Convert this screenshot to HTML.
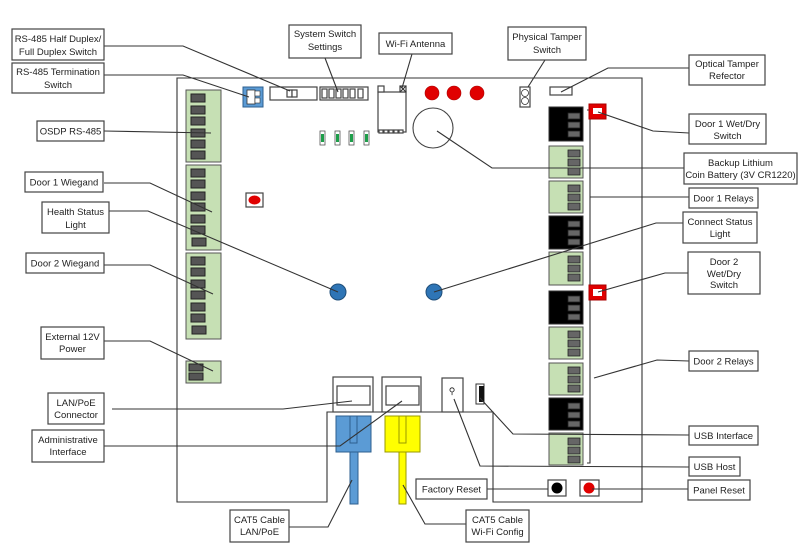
<!DOCTYPE html>
<html><head><meta charset="utf-8"><style>
html,body{margin:0;padding:0;background:#fff;}
svg{display:block;}
text{font-family:"Liberation Sans",sans-serif;font-size:9.5px;fill:#222;text-anchor:middle;}
.b{fill:#fff;stroke:#444;stroke-width:1.2;}
.l{fill:none;stroke:#333;stroke-width:1.1;}
.g{fill:#c6e0b4;stroke:#555;stroke-width:1;}
.k{fill:#000;stroke:#333;stroke-width:1;}
.p{fill:#555;stroke:#222;stroke-width:1;}
</style></head><body>
<svg width="806" height="546" viewBox="0 0 806 546" xmlns="http://www.w3.org/2000/svg">
<!-- board outline -->
<path class="l" d="M177,502 L177,78 L642,78 L642,502 L493,502 L493,412 L327,412 L327,502 Z" stroke-width="1.3"/>

<!-- left terminal blocks -->
<rect class="g" x="186" y="90" width="35" height="72"/>
<rect class="g" x="186" y="165" width="35" height="85"/>
<rect class="g" x="186" y="253" width="35" height="86"/>
<rect class="g" x="186" y="361" width="35" height="22"/>
<g class="p">
<rect x="191" y="94" width="14" height="8"/><rect x="191" y="106" width="14" height="8"/><rect x="191" y="117" width="14" height="8"/><rect x="191" y="129" width="14" height="8"/><rect x="191" y="140" width="14" height="8"/><rect x="191" y="151" width="14" height="8"/>
<rect x="191" y="169" width="14" height="8"/><rect x="191" y="180" width="14" height="8"/><rect x="191" y="192" width="14" height="8"/><rect x="191" y="203" width="14" height="8"/><rect x="191" y="215" width="14" height="8"/><rect x="191" y="226" width="14" height="8"/><rect x="192" y="238" width="14" height="8"/>
<rect x="191" y="257" width="14" height="8"/><rect x="191" y="268" width="14" height="8"/><rect x="191" y="280" width="14" height="8"/><rect x="191" y="291" width="14" height="8"/><rect x="191" y="303" width="14" height="8"/><rect x="191" y="314" width="14" height="8"/><rect x="192" y="326" width="14" height="8"/>
<rect x="189" y="364" width="14" height="7"/><rect x="189" y="373" width="14" height="7"/>
</g>

<!-- top components -->
<rect x="243" y="87" width="20" height="20" fill="#5b9bd5" stroke="#2e5f8f"/>
<rect x="247" y="90" width="8" height="14" fill="#fff" stroke="#333" stroke-width=".8"/>
<rect x="255" y="91" width="5" height="5" fill="#fff" stroke="#333" stroke-width=".6"/><rect x="255" y="98" width="5" height="5" fill="#fff" stroke="#333" stroke-width=".6"/>
<rect class="b" x="270" y="87" width="47" height="13"/>
<rect class="b" x="287" y="90" width="5" height="7" stroke-width=".8"/><rect class="b" x="292" y="90" width="5" height="7" stroke-width=".8"/>
<rect class="b" x="320" y="87" width="48" height="13"/>
<g class="b" stroke-width=".8"><rect x="322" y="89" width="5" height="9"/><rect x="329" y="89" width="5" height="9"/><rect x="336" y="89" width="5" height="9"/><rect x="343" y="89" width="5" height="9"/><rect x="350" y="89" width="5" height="9"/><rect x="358" y="89" width="5" height="9"/></g>
<rect class="b" x="378" y="92" width="28" height="40"/>
<rect class="b" x="378" y="86" width="6" height="6" stroke-width=".8"/><rect class="b" x="400" y="86" width="6" height="6" stroke-width=".8"/>
<path class="l" d="M400,86 L406,92 M406,86 L400,92" stroke-width=".7"/>
<g class="b" stroke-width=".6"><rect x="379" y="130" width="4" height="3"/><rect x="384" y="130" width="4" height="3"/><rect x="389" y="130" width="4" height="3"/><rect x="394" y="130" width="4" height="3"/><rect x="399" y="130" width="4" height="3"/></g>
<g fill="#e00000" stroke="#a00" stroke-width=".6"><circle cx="432" cy="93" r="7"/><circle cx="454" cy="93" r="7"/><circle cx="477" cy="93" r="7"/></g>
<circle cx="433" cy="128" r="20" fill="#fff" stroke="#444" stroke-width="1.1"/>
<g stroke="#555" stroke-width=".8"><rect x="320" y="131" width="5" height="14" fill="#fff"/><rect x="335" y="131" width="5" height="14" fill="#fff"/><rect x="349" y="131" width="5" height="14" fill="#fff"/><rect x="364" y="131" width="5" height="14" fill="#fff"/></g>
<g fill="#1e9e4a"><rect x="321" y="134" width="3" height="8"/><rect x="336" y="134" width="3" height="8"/><rect x="350" y="134" width="3" height="8"/><rect x="365" y="134" width="3" height="8"/></g>
<rect class="b" x="246" y="193" width="17" height="14"/>
<ellipse cx="254.5" cy="200" rx="6" ry="4.5" fill="#e00000"/>
<circle cx="338" cy="292" r="8" fill="#2e75b6" stroke="#1f4e79"/>
<circle cx="434" cy="292" r="8" fill="#2e75b6" stroke="#1f4e79"/>
<rect class="b" x="520" y="87" width="10" height="20"/>
<circle cx="525" cy="93" r="3.5" fill="#fff" stroke="#333" stroke-width=".8"/><circle cx="525" cy="101" r="3.5" fill="#fff" stroke="#333" stroke-width=".8"/>
<rect class="b" x="550" y="87" width="22" height="8"/>

<!-- right column -->
<rect class="k" x="549" y="107" width="34" height="34"/>
<rect class="g" x="549" y="146" width="34" height="32"/>
<rect class="g" x="549" y="181" width="34" height="32"/>
<rect class="k" x="549" y="216" width="34" height="33"/>
<rect class="g" x="549" y="252" width="34" height="33"/>
<rect class="k" x="549" y="291" width="34" height="33"/>
<rect class="g" x="549" y="327" width="34" height="32"/>
<rect class="g" x="549" y="363" width="34" height="32"/>
<rect class="k" x="549" y="398" width="34" height="32"/>
<rect class="g" x="549" y="433" width="34" height="32"/>
<g fill="#666" stroke="#222" stroke-width=".8">
<rect x="568" y="113" width="12" height="6"/><rect x="568" y="122" width="12" height="6"/><rect x="568" y="131" width="12" height="6"/>
<rect x="568" y="150" width="12" height="7"/><rect x="568" y="159" width="12" height="7"/><rect x="568" y="168" width="12" height="7"/>
<rect x="568" y="185" width="12" height="7"/><rect x="568" y="194" width="12" height="7"/><rect x="568" y="203" width="12" height="7"/>
<rect x="568" y="221" width="12" height="6"/><rect x="568" y="230" width="12" height="6"/><rect x="568" y="239" width="12" height="6"/>
<rect x="568" y="256" width="12" height="7"/><rect x="568" y="265" width="12" height="7"/><rect x="568" y="274" width="12" height="7"/>
<rect x="568" y="296" width="12" height="6"/><rect x="568" y="305" width="12" height="6"/><rect x="568" y="314" width="12" height="6"/>
<rect x="568" y="331" width="12" height="7"/><rect x="568" y="340" width="12" height="7"/><rect x="568" y="349" width="12" height="7"/>
<rect x="568" y="367" width="12" height="7"/><rect x="568" y="376" width="12" height="7"/><rect x="568" y="385" width="12" height="7"/>
<rect x="568" y="403" width="12" height="6"/><rect x="568" y="412" width="12" height="6"/><rect x="568" y="421" width="12" height="6"/>
<rect x="568" y="438" width="12" height="7"/><rect x="568" y="447" width="12" height="7"/><rect x="568" y="456" width="12" height="7"/>
</g>
<path class="l" d="M587,110 L590,110 L590,463 L587,463"/>
<rect x="589" y="104" width="17" height="15" fill="#e00000" stroke="#a00"/><rect x="593" y="108" width="9" height="6" fill="#fff"/>
<rect x="589" y="285" width="17" height="15" fill="#e00000" stroke="#a00"/><rect x="593" y="289" width="9" height="7" fill="#fff"/>

<!-- RJ45 + cables -->
<rect class="b" x="333" y="377" width="40" height="35"/><rect class="b" x="337" y="386" width="33" height="19"/>
<rect class="b" x="382" y="377" width="39" height="35"/><rect class="b" x="386" y="386" width="33" height="19"/>
<rect x="336" y="416" width="35" height="36" fill="#5b9bd5" stroke="#2e5f8f"/><rect x="350" y="416" width="7" height="27" fill="#5b9bd5" stroke="#2e5f8f"/>
<rect x="350" y="452" width="8" height="52" fill="#5b9bd5" stroke="#2e5f8f"/>
<rect x="385" y="416" width="35" height="36" fill="#ffff00" stroke="#999900"/><rect x="399" y="416" width="7" height="27" fill="#ffff00" stroke="#999900"/>
<rect x="399" y="452" width="7" height="52" fill="#ffff00" stroke="#999900"/>
<rect class="b" x="442" y="378" width="21" height="34"/>
<text x="452" y="394" style="font-size:9px">⚲</text>
<rect x="476" y="384" width="8" height="20" fill="#fff" stroke="#333"/><rect x="479" y="386" width="5" height="16" fill="#111"/>
<rect class="b" x="548" y="480" width="18" height="16"/><circle cx="557" cy="488" r="5.5" fill="#000"/>
<rect class="b" x="580" y="480" width="19" height="16"/><circle cx="589" cy="488" r="5.5" fill="#e00000"/>

<!-- connectors -->
<g class="l">
<path d="M104,46 L183,46 L290,91"/>
<path d="M104,75 L183,75 L249,97"/>
<path d="M104,131 L211,133"/>
<path d="M104,183 L150,183 L212,212"/>
<path d="M109,211 L148,211 L338,292"/>
<path d="M104,265 L150,265 L213,294"/>
<path d="M104,341 L150,341 L213,371"/>
<path d="M112,409 L283,409 L352,401"/>
<path d="M104,446 L340,446 L402,401"/>
<path d="M289,527 L328,527 L352,480"/>
<path d="M466,524 L425,524 L403,485"/>
<path d="M487,489 L548,489"/>
<path d="M325,58 L338,92"/>
<path d="M412,54 L402,88"/>
<path d="M545,60 L528,87"/>
<path d="M689,68 L608,68 L561,92"/>
<path d="M689,133 L653,131 L598,112"/>
<path d="M684,168 L492,168 L437,131"/>
<path d="M689,197 L590,197"/>
<path d="M683,223 L656,223 L434,292"/>
<path d="M688,273 L665,273 L598,292"/>
<path d="M689,361 L657,360 L594,378"/>
<path d="M689,435 L513,434 L480,398"/>
<path d="M689,467 L480,466 L454,399"/>
<path d="M688,489 L592,489"/>
</g>

<!-- label boxes -->
<rect class="b" x="12" y="29" width="92" height="31"/><text x="58" y="42">RS-485 Half Duplex/</text><text x="58" y="55">Full Duplex Switch</text>
<rect class="b" x="12" y="63" width="92" height="30"/><text x="58" y="75">RS-485 Termination</text><text x="58" y="88">Switch</text>
<rect class="b" x="37" y="121" width="67" height="20"/><text x="70.5" y="134.5">OSDP RS-485</text>
<rect class="b" x="25" y="172" width="78" height="20"/><text x="64" y="185.5">Door 1 Wiegand</text>
<rect class="b" x="42" y="202" width="67" height="31"/><text x="75.5" y="215">Health Status</text><text x="75.5" y="228">Light</text>
<rect class="b" x="26" y="253" width="78" height="20"/><text x="65" y="266.5">Door 2 Wiegand</text>
<rect class="b" x="41" y="327" width="63" height="32"/><text x="72.5" y="340">External 12V</text><text x="72.5" y="352">Power</text>
<rect class="b" x="48" y="393" width="56" height="31"/><text x="76" y="406">LAN/PoE</text><text x="76" y="418">Connector</text>
<rect class="b" x="32" y="430" width="72" height="32"/><text x="68" y="443">Administrative</text><text x="68" y="455">Interface</text>
<rect class="b" x="230" y="510" width="59" height="32"/><text x="259.5" y="523">CAT5 Cable</text><text x="259.5" y="535">LAN/PoE</text>
<rect class="b" x="289" y="25" width="72" height="33"/><text x="325" y="37">System Switch</text><text x="325" y="50">Settings</text>
<rect class="b" x="379" y="33" width="73" height="21"/><text x="415.5" y="47">Wi-Fi Antenna</text>
<rect class="b" x="508" y="27" width="78" height="33"/><text x="547" y="40">Physical Tamper</text><text x="547" y="53">Switch</text>
<rect class="b" x="689" y="55" width="76" height="30"/><text x="727" y="67">Optical Tamper</text><text x="727" y="79">Refector</text>
<rect class="b" x="689" y="114" width="77" height="30"/><text x="727.5" y="127">Door 1 Wet/Dry</text><text x="727.5" y="139">Switch</text>
<rect class="b" x="684" y="153" width="113" height="31"/><text x="740.5" y="166">Backup Lithium</text><text x="740.5" y="178">Coin Battery (3V CR1220)</text>
<rect class="b" x="689" y="188" width="69" height="20"/><text x="723.5" y="201.5">Door 1 Relays</text>
<rect class="b" x="683" y="212" width="74" height="31"/><text x="720" y="225">Connect Status</text><text x="720" y="237">Light</text>
<rect class="b" x="688" y="252" width="72" height="42"/><text x="724" y="265">Door 2</text><text x="724" y="277">Wet/Dry</text><text x="724" y="288">Switch</text>
<rect class="b" x="689" y="351" width="69" height="20"/><text x="723.5" y="364.5">Door 2 Relays</text>
<rect class="b" x="689" y="426" width="69" height="19"/><text x="723.5" y="439">USB Interface</text>
<rect class="b" x="689" y="457" width="51" height="19"/><text x="714.5" y="470">USB Host</text>
<rect class="b" x="688" y="480" width="62" height="20"/><text x="719" y="493.5">Panel Reset</text>
<rect class="b" x="416" y="479" width="71" height="20"/><text x="451.5" y="492.5">Factory Reset</text>
<rect class="b" x="466" y="510" width="63" height="32"/><text x="497.5" y="523">CAT5 Cable</text><text x="497.5" y="535">Wi-Fi Config</text>
</svg>
</body></html>
